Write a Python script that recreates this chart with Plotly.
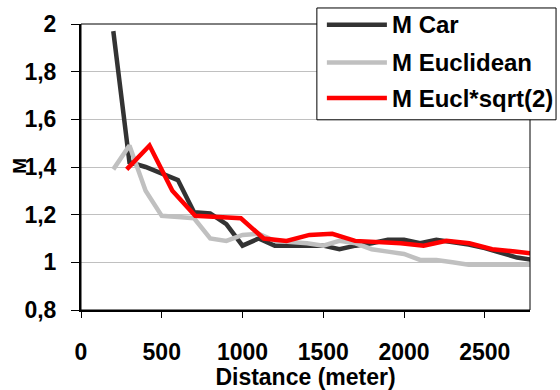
import math
import plotly.graph_objects as go

# Distance classes (meter) and M values per method
distance = [200, 300, 400, 500, 600, 700, 800, 900, 1000, 1100, 1200, 1300, 1400,
            1500, 1600, 1700, 1800, 1900, 2000, 2100, 2200, 2300, 2400, 2500,
            2600, 2700, 2800]
m_car = [1.97, 1.42, 1.40, 1.37, 1.345, 1.21, 1.205, 1.16, 1.07, 1.10, 1.07, 1.07,
         1.07, 1.07, 1.055, 1.07, 1.08, 1.095, 1.095, 1.08, 1.095, 1.085, 1.075,
         1.06, 1.04, 1.02, 1.01]
m_eucl = [1.39, 1.49, 1.30, 1.195, 1.19, 1.185, 1.10, 1.09, 1.115, 1.12, 1.09, 1.085,
          1.08, 1.07, 1.09, 1.08, 1.055, 1.045, 1.035, 1.01, 1.01, 1.00, 0.99,
          0.99, 0.99, 0.99, 0.99]

# Euclidean distances scaled by sqrt(2)
dist_scaled = [d * math.sqrt(2) for d in distance]

y_ticks = [0.8, 1.0, 1.2, 1.4, 1.6, 1.8, 2.0]
x_ticks = [0, 500, 1000, 1500, 2000, 2500]

series_names = ["M Car", "M Euclidean", "M Eucl*sqrt(2)"]
series_colors = ["#333333", "#c0c0c0", "#ff0000"]

FONT = "Liberation Sans, Arial, sans-serif"
LINE_W = 4.5

fig = go.Figure()
fig.add_trace(go.Scatter(x=distance, y=m_car, mode="lines", name=series_names[0],
                         line=dict(color=series_colors[0], width=LINE_W)))
fig.add_trace(go.Scatter(x=distance, y=m_eucl, mode="lines", name=series_names[1],
                         line=dict(color=series_colors[1], width=LINE_W)))
fig.add_trace(go.Scatter(x=dist_scaled, y=m_eucl, mode="lines", name=series_names[2],
                         line=dict(color=series_colors[2], width=LINE_W)))

# Boxed key in the upper right corner, overlapping the frame
box_x0, box_x1, box_y0, box_y1 = 0.5253, 1.058, 0.665, 1.056
key_x0, key_x1, key_text_x = 0.5476, 0.6813, 0.688
key_rows = [0.9976, 0.8656, 0.7410]

shapes = [
    dict(type="rect", xref="paper", yref="paper", x0=0, x1=1, y0=0, y1=1,
         line=dict(color="black", width=1), layer="above"),
    dict(type="rect", xref="paper", yref="paper", x0=box_x0, x1=box_x1,
         y0=box_y0, y1=box_y1, fillcolor="white",
         line=dict(color="black", width=1), layer="above"),
]
annotations = [dict(text="M", textangle=-90, xref="paper", yref="paper",
                    x=-0.136, y=0.504, xanchor="center", yanchor="middle",
                    showarrow=False, font=dict(family=FONT, size=19, weight="bold"))]
for name, color, ry in zip(series_names, series_colors, key_rows):
    shapes.append(dict(type="line", xref="paper", yref="paper", x0=key_x0, x1=key_x1,
                       y0=ry, y1=ry, line=dict(color=color, width=LINE_W),
                       layer="above"))
    annotations.append(dict(text=name, xref="paper", yref="paper", x=key_text_x, y=ry,
                            xanchor="left", yanchor="middle", showarrow=False,
                            font=dict(family=FONT, size=24, weight="bold",
                                      color="black")))

fig.update_layout(
    width=560, height=390,
    margin=dict(l=81, r=30, t=24, b=80, autoexpand=False),
    paper_bgcolor="white", plot_bgcolor="white",
    separators=", ",
    font=dict(family=FONT, size=23, color="black", weight="bold"),
    showlegend=False,
    xaxis=dict(range=[0, 2780], tickvals=x_ticks, showgrid=False, zeroline=False,
               showline=True, linecolor="black", linewidth=2,
               ticks="outside", ticklen=6, tickcolor="black", tickwidth=1,
               ticklabelstandoff=14,
               title=dict(text="Distance (meter)", standoff=0,
                          font=dict(family=FONT, size=23, weight="bold"))),
    yaxis=dict(range=[0.8, 2.0], tickvals=y_ticks, showgrid=True, gridcolor="#c0c0c0",
               gridwidth=1, zeroline=False,
               showline=True, linecolor="black", linewidth=2,
               ticks="outside", ticklen=8, tickcolor="black", tickwidth=1,
               ticklabelstandoff=10),
    annotations=annotations,
    shapes=shapes,
)

fig.write_html("out.html")
